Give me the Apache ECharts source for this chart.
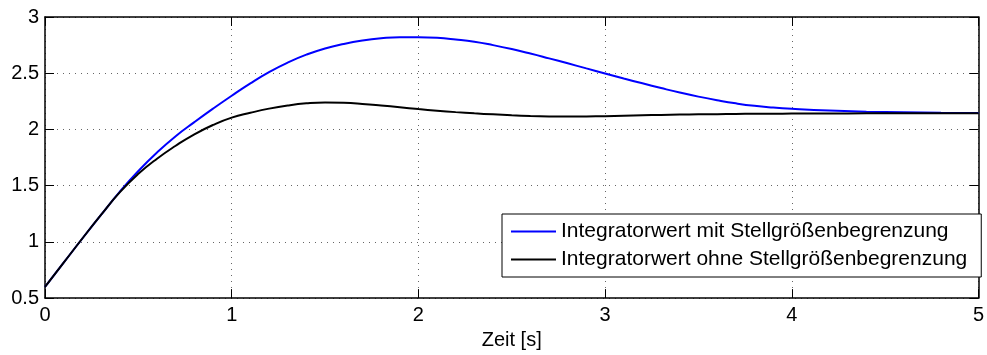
<!DOCTYPE html>
<html>
<head>
<meta charset="utf-8">
<script src="https://cdn.jsdelivr.net/npm/echarts@6/dist/echarts.min.js"></script>
<style>
  html, body { margin: 0; padding: 0; background: #fff; }
  #chart { width: 987px; height: 355px; }
</style>
</head>
<body>
<div id="chart"></div>
<script>
// Time axis samples (seconds)
const zeit = [0, 0.1, 0.2, 0.3, 0.4, 0.5, 0.6, 0.7, 0.8, 0.9,
  1.0, 1.1, 1.2, 1.3, 1.4, 1.5, 1.6, 1.7, 1.8, 1.9,
  2.0, 2.1, 2.2, 2.3, 2.4, 2.5, 2.6, 2.7, 2.8, 2.9,
  3.0, 3.1, 3.2, 3.3, 3.4, 3.5, 3.6, 3.7, 3.8, 3.9,
  4.0, 4.2, 4.4, 4.6, 4.8, 5.0];

// Integrator value with actuator limitation
const mitBegrenzung = [0.60, 0.815, 1.03, 1.24, 1.445, 1.63, 1.795, 1.94, 2.065, 2.185,
  2.30, 2.41, 2.51, 2.595, 2.665, 2.72, 2.76, 2.79, 2.81, 2.82,
  2.82, 2.815, 2.80, 2.78, 2.75, 2.715, 2.675, 2.632, 2.588, 2.543,
  2.498, 2.453, 2.41, 2.368, 2.328, 2.292, 2.26, 2.232, 2.21, 2.195,
  2.184, 2.168, 2.158, 2.152, 2.148, 2.146];

// Integrator value without actuator limitation
const ohneBegrenzung = [0.60, 0.815, 1.03, 1.24, 1.44, 1.605, 1.74, 1.855, 1.957, 2.04,
  2.105, 2.148, 2.185, 2.213, 2.232, 2.24, 2.237, 2.227, 2.213, 2.197,
  2.181, 2.167, 2.154, 2.143, 2.134, 2.126, 2.12, 2.116, 2.114, 2.115,
  2.118, 2.122, 2.126, 2.129, 2.132, 2.134, 2.136, 2.138, 2.139, 2.14,
  2.141, 2.142, 2.143, 2.143, 2.143, 2.143];

const xTicks = { min: 0, max: 5, interval: 1 };
const yTicks = { min: 0.5, max: 3, interval: 0.5 };

const nameMit = 'Integratorwert mit Stellgrößenbegrenzung';
const nameOhne = 'Integratorwert ohne Stellgrößenbegrenzung';

const pair = (xs, ys) => xs.map((x, i) => [x, ys[i]]);

const FONT = 'Liberation Sans, Arial, sans-serif';
const FS = 20;
const axisLine = { show: true, onZero: false, lineStyle: { color: '#000', width: 1.5 } };
const tick = { show: true, inside: true, length: 9, lineStyle: { color: '#000', width: 1 } };
const grid = { show: true, lineStyle: { color: '#666', width: 1, type: [1, 5] } };

const chart = echarts.init(document.getElementById('chart'));
chart.setOption({
  animation: false,
  backgroundColor: '#fff',
  textStyle: { fontFamily: FONT },
  grid: { left: 45, right: 5, top: 17, bottom: 52, containLabel: false },
  xAxis: [
    {
      type: 'value', min: xTicks.min, max: xTicks.max, interval: xTicks.interval,
      position: 'bottom',
      name: 'Zeit [s]', nameLocation: 'middle', nameGap: 27,
      nameTextStyle: { color: '#000', fontSize: FS, fontFamily: FONT },
      axisLine, axisTick: tick, splitLine: grid,
      axisLabel: { color: '#000', fontSize: FS, fontFamily: FONT, margin: 7 }
    },
    {
      type: 'value', min: xTicks.min, max: xTicks.max, interval: xTicks.interval,
      position: 'top',
      axisLine, axisTick: tick, splitLine: { show: false },
      axisLabel: { show: false }
    }
  ],
  yAxis: [
    {
      type: 'value', min: yTicks.min, max: yTicks.max, interval: yTicks.interval,
      position: 'left',
      axisLine, axisTick: tick, splitLine: grid,
      axisLabel: { color: '#000', fontSize: FS, fontFamily: FONT, margin: 6 }
    },
    {
      type: 'value', min: yTicks.min, max: yTicks.max, interval: yTicks.interval,
      position: 'right',
      axisLine, axisTick: tick, splitLine: { show: false },
      axisLabel: { show: false }
    }
  ],
  legend: {
    orient: 'vertical',
    left: 502, top: 214,
    padding: [6, 14, 6, 9],
    backgroundColor: '#fff',
    borderColor: '#000', borderWidth: 1, borderRadius: 0,
    itemWidth: 45, itemHeight: 2, itemGap: 5,
    icon: 'rect',
    textStyle: { color: '#000', fontSize: 21, fontFamily: FONT, lineHeight: 23, padding: [0, 0, 0, 0] },
    data: [nameMit, nameOhne]
  },
  series: [
    {
      name: nameMit, type: 'line', xAxisIndex: 0, yAxisIndex: 0,
      data: pair(zeit, mitBegrenzung),
      smooth: true, showSymbol: false, symbol: 'none',
      lineStyle: { color: '#0000ff', width: 2 }, itemStyle: { color: '#0000ff' },
      z: 3
    },
    {
      name: nameOhne, type: 'line', xAxisIndex: 0, yAxisIndex: 0,
      data: pair(zeit, ohneBegrenzung),
      smooth: true, showSymbol: false, symbol: 'none',
      lineStyle: { color: '#000', width: 2 }, itemStyle: { color: '#000' },
      z: 4
    }
  ]
});
</script>
</body>
</html>
